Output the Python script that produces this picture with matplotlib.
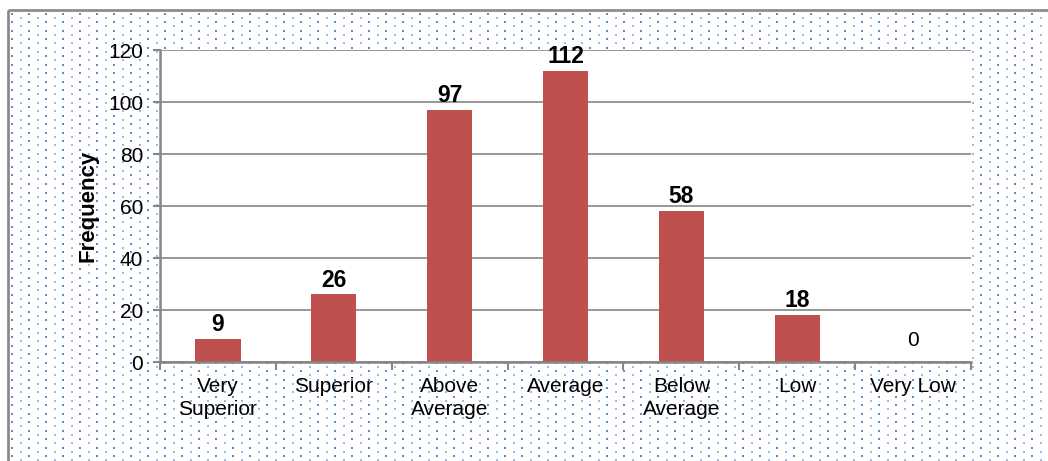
import numpy as np
import matplotlib.pyplot as plt
from matplotlib.patches import Rectangle

categories = ["Very\nSuperior", "Superior", "Above\nAverage", "Average",
              "Below\nAverage", "Low", "Very Low"]
frequency = [9, 26, 97, 112, 58, 18, 0]
yticks = [0, 20, 40, 60, 80, 100, 120]

plt.rcParams["font.family"] = ["Liberation Sans", "DejaVu Sans"]

W, H = 1048, 461
fig = plt.figure(figsize=(W / 100, H / 100), dpi=100)

# dotted background in pixel coordinates
bg = fig.add_axes([0, 0, 1, 1])
bg.set_xlim(0, W)
bg.set_ylim(H, 0)
bg.axis("off")
xs_big = np.arange(12, W, 17.0)
ys_big = np.arange(14, H, 8.5)
bx, by = np.meshgrid(xs_big, ys_big)
bg.scatter(bx.ravel(), by.ravel(), s=2.0, marker="s", color="#5B8BCF", linewidths=0)
xs_small = np.arange(20.5, W, 17.0)
ys_small = np.arange(18, H, 8.5)
sx, sy = np.meshgrid(xs_small, ys_small)
bg.scatter(sx.ravel(), sy.ravel(), s=0.8, marker="s", color="#9DBAE2", linewidths=0)
bg.add_patch(Rectangle((8, 10), W + 20, H + 20, fill=False, edgecolor="#8C8C8C", lw=2))

ax = fig.add_axes([160 / W, 1 - 362 / H, 811 / W, 312 / H])
ax.set_facecolor("white")

x = np.arange(len(categories))
ax.bar(x, frequency, width=0.39, color="#C0504D", zorder=3)

ax.set_xlim(-0.5, len(categories) - 0.5)
ax.set_ylim(0, 120)
ax.set_yticks(yticks)
ax.tick_params(axis="y", labelsize=15, length=5, color="#868686", width=1.5, pad=7)
ax.set_xticks(np.arange(-0.5, len(categories), 1.0))
ax.set_xticklabels([])
ax.set_xticks(x, minor=True)
ax.set_xticklabels(categories, minor=True, fontsize=15, linespacing=1.25)
ax.tick_params(axis="x", which="major", length=6, color="#868686", width=1.5)
ax.tick_params(axis="x", which="minor", length=0, pad=11)
ax.grid(axis="y", color="#868686", lw=1.2, zorder=1)
for s in ["top", "right"]:
    ax.spines[s].set_visible(False)
for s in ["left", "bottom"]:
    ax.spines[s].set_color("#868686")
    ax.spines[s].set_linewidth(1.8)
    ax.spines[s].set_zorder(4)

ax.set_ylabel("Frequency", fontsize=16, fontweight="bold", labelpad=7)

for xi, v in zip(x, frequency):
    if v == 0:
        ax.annotate(str(v), (xi, v), xytext=(0, 9), textcoords="offset points",
                    ha="center", va="bottom", fontsize=15)
    else:
        ax.annotate(str(v), (xi, v), xytext=(0, 2), textcoords="offset points",
                    ha="center", va="bottom", fontsize=16.5, fontweight="bold")

fig.savefig("out.png", dpi=100)
